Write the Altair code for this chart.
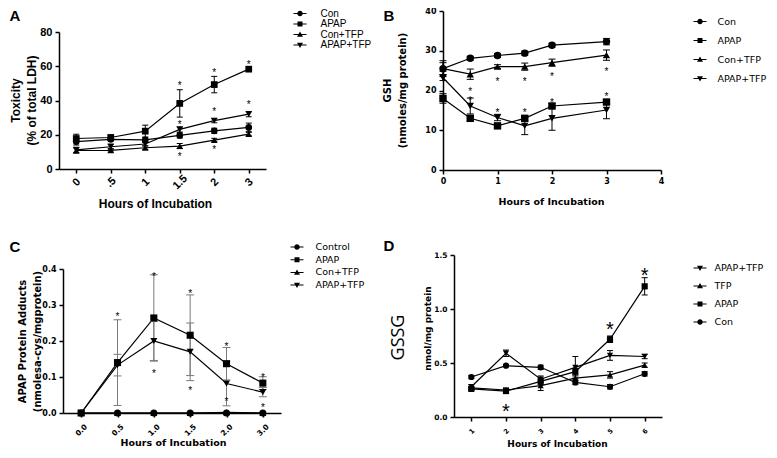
import altair as alt
import pandas as pd

W, H = 761, 442
ARIAL = "Liberation Sans"
DV = "DejaVu Sans"

# ---------------- Panel A : LDH toxicity ----------------
A_hours = ["0", ".5", "1", "1.5", "2", "3"]
A_names = ["Con", "APAP", "Con+TFP", "APAP+TFP"]
A_con = [16.0, 17.3, 17.0, 19.6, 22.3, 24.3]
A_apap = [17.8, 18.4, 22.1, 38.3, 49.3, 58.3]
A_con_tfp = [10.8, 10.9, 12.4, 13.4, 16.9, 20.4]
A_apap_tfp = [11.2, 13.0, 14.6, 23.1, 28.2, 32.0]
A_con_sd = [2.0, 1.0, 1.5, 1.5, 1.5, 2.5]
A_apap_sd = [2.5, 1.5, 3.5, 8.0, 4.8, 1.2]
A_con_tfp_sd = [1.5, 1.0, 1.0, 1.5, 1.0, 1.0]
A_apap_tfp_sd = [1.5, 1.5, 1.0, 1.5, 1.2, 1.5]
A_star_x = ["1.5", "1.5", "1.5", "2", "2", "2", "3", "3"]
A_star_y = [50.5, 27.6, 8.7, 58.0, 35.0, 13.0, 62.5, 39.2]

# ---------------- Panel B : GSH ----------------
B_hours = [0, 0.5, 1, 1.5, 2, 3]
B_names = ["Con", "APAP", "Con+TFP", "APAP+TFP"]
B_con = [25.5, 28.1, 28.8, 29.4, 31.4, 32.3]
B_apap = [18.0, 13.0, 11.1, 13.0, 16.1, 17.1]
B_con_tfp = [25.5, 24.1, 26.0, 26.0, 27.0, 28.9]
B_apap_tfp = [23.2, 16.1, 13.2, 11.1, 13.0, 15.1]
B_con_sd = [1.5, 0.5, 0.5, 0.5, 0.5, 0.8]
B_apap_sd = [1.2, 0.7, 0.5, 0.6, 0.6, 0.5]
B_con_tfp_sd = [2.0, 1.3, 0.5, 0.9, 0.9, 1.3]
B_apap_tfp_sd = [0.7, 2.0, 0.8, 2.2, 3.0, 2.2]
B_star_x = [0.5, 0.5, 1, 1, 1.5, 1.5, 2, 2, 3, 3]
B_star_y = [20.5, 18.2, 22.9, 15.1, 23.0, 15.1, 24.1, 17.6, 25.4, 19.1]

# ---------------- Panel C : APAP protein adducts ----------------
C_hours = ["0.0", "0.5", "1.0", "1.5", "2.0", "3.0"]
C_names = ["Control", "APAP", "Con+TFP", "APAP+TFP"]
C_control = [0.0, 0.0, 0.0, 0.0, 0.0, 0.0]
C_apap = [0.0, 0.140, 0.264, 0.216, 0.137, 0.083]
C_con_tfp = [0.0, 0.0, 0.0, 0.0, 0.002, 0.0]
C_apap_tfp = [0.0, 0.133, 0.200, 0.170, 0.082, 0.058]
C_control_sd = [0, 0, 0, 0, 0, 0]
C_apap_sd = [0, 0.119, 0.120, 0.112, 0.045, 0.018]
C_con_tfp_sd = [0, 0, 0, 0, 0, 0]
C_apap_tfp_sd = [0, 0.030, 0.054, 0.080, 0.062, 0.013]
C_star_x = ["0.5", "1.0", "1.0", "1.5", "1.5", "2.0", "2.0", "3.0", "3.0"]
C_star_y = [0.275, 0.387, 0.116, 0.338, 0.069, 0.193, 0.040, 0.106, 0.023]

# ---------------- Panel D : GSSG ----------------
D_hours = ["1", "2", "3", "4", "5", "6"]
D_names = ["APAP+TFP", "TFP", "APAP", "Con"]
D_apap_tfp = [0.28, 0.59, 0.35, 0.46, 0.57, 0.56]
D_tfp = [0.27, 0.25, 0.29, 0.36, 0.39, 0.48]
D_apap = [0.26, 0.24, 0.33, 0.42, 0.72, 1.21]
D_con = [0.37, 0.475, 0.46, 0.32, 0.28, 0.40]
D_apap_tfp_sd = [0.02, 0.03, 0.03, 0.10, 0.045, 0.02]
D_tfp_sd = [0.01, 0.02, 0.045, 0.02, 0.03, 0.02]
D_apap_sd = [0.01, 0.02, 0.03, 0.03, 0.03, 0.08]
D_con_sd = [0.015, 0.01, 0.02, 0.02, 0.02, 0.02]
D_star_x = ["2", "5", "6"]
D_star_y = [0.10, 0.855, 1.36]

# ---------------- styling helpers ----------------
# legend glyphs: a thin filled bar (the connecting line) plus the marker, all wound clockwise
BAR = "M-1.3,-0.1L1.3,-0.1L1.3,0.1L-1.3,0.1Z"
LEG_PATH = {
    "circle": BAR + "M-0.55,0A0.55,0.55,0,1,1,0.55,0A0.55,0.55,0,1,1,-0.55,0Z",
    "square": BAR + "M-0.5,-0.5L0.5,-0.5L0.5,0.5L-0.5,0.5Z",
    "triangle-up": BAR + "M0,-0.6L0.6,0.45L-0.6,0.45Z",
    "triangle-down": BAR + "M0,0.6L-0.6,-0.45L0.6,-0.45Z",
}
STD_SHAPES = ["circle", "square", "triangle-up", "triangle-down"]
D_SHAPES = ["triangle-down", "triangle-up", "square", "circle"]


def table(xs, names, series, sds):
    rows = []
    for name, vals, sd in zip(names, series, sds):
        for i, (x, v, s) in enumerate(zip(xs, vals, sd)):
            rows.append({"i": i, "x": x, "s": name, "y": v, "lo": v - s, "hi": v + s, "sd": s})
    return pd.DataFrame(rows)


def axis_style(font, lsize, tsize):
    return dict(domainColor="black", domainWidth=1.5, tickColor="black", tickWidth=1.5, tickSize=4,
                labelFont=font, labelFontSize=lsize, labelFontWeight="bold", labelColor="black",
                titleFont=font, titleFontSize=tsize, titleFontWeight="bold", titleColor="black",
                grid=False, titleAlign="center", titleBaseline="middle", labelOverlap=False)


def panel(tab, stars, xtype, xscale, yscale, xaxis, yaxis, names, shapes, msize,
          err_color, cap, star_size, star_dy):
    def xs():
        return alt.X(f"x:{xtype}", scale=xscale, axis=None)

    def ys(f):
        return alt.Y(f"{f}:Q", scale=yscale, axis=None)

    errt = tab[tab["sd"] > 0]
    err = alt.Chart(errt).mark_rule(color=err_color, strokeWidth=1).encode(
        x=xs(), y=ys("lo"), y2="hi:Q")
    cap_lo = alt.Chart(errt).mark_tick(orient="horizontal", color=err_color, size=cap,
                                       thickness=1, opacity=1).encode(x=xs(), y=ys("lo"))
    cap_hi = alt.Chart(errt).mark_tick(orient="horizontal", color=err_color, size=cap,
                                       thickness=1, opacity=1).encode(x=xs(), y=ys("hi"))
    line = alt.Chart(tab).mark_line(color="black", strokeWidth=1.2).encode(
        x=alt.X(f"x:{xtype}", scale=xscale, axis=xaxis),
        y=alt.Y("y:Q", scale=yscale, axis=yaxis),
        detail="s:N", order="i:Q")
    pts = alt.Chart(tab).mark_point(filled=True, color="black", opacity=1, size=msize).encode(
        x=xs(), y=ys("y"),
        shape=alt.Shape("s:N", scale=alt.Scale(domain=names, range=shapes), legend=None))
    st = alt.Chart(stars).mark_text(text="*", font=ARIAL, fontSize=star_size, dy=star_dy,
                                    color="black", baseline="middle").encode(x=xs(), y=ys("y"))
    return [line, err, cap_lo, cap_hi, pts, st]


def legend_layer(names, shapes, lx, ly, font, fsize, rowpad, loff):
    df = pd.DataFrame({"s": names})
    return alt.Chart(df).transform_filter("false").mark_point(
        filled=True, color="black").encode(
        shape=alt.Shape("s:N", scale=alt.Scale(domain=names, range=[LEG_PATH[s] for s in shapes]),
                        legend=alt.Legend(orient="none", legendX=lx, legendY=ly, title=None,
                                          symbolSize=100, labelFont=font, labelFontSize=fsize,
                                          labelColor="black", rowPadding=rowpad, labelOffset=loff,
                                          padding=0, symbolStrokeWidth=0,
                                          symbolFillColor="black", symbolOpacity=1)))


def title_axis(orient, text, tx, ty, font, size, weight, angle, align="left"):
    return alt.Axis(orient=orient, title=text, titleX=tx, titleY=ty, titleFont=font,
                    titleFontSize=size, titleFontWeight=weight, titleAngle=angle,
                    titleAlign=align, titleBaseline="middle", titleColor="black",
                    domain=False, ticks=False, labels=False, grid=False)


def label_layer(xaxis=None, yaxis=None):
    df = pd.DataFrame({"v": [0.0]})
    enc = {}
    if xaxis is not None:
        enc["x"] = alt.X("v:Q", scale=alt.Scale(domain=[0, 1]), axis=xaxis)
    if yaxis is not None:
        enc["y"] = alt.Y("v:Q", scale=alt.Scale(domain=[0, 1]), axis=yaxis)
    return alt.Chart(df).transform_filter("false").mark_point(opacity=0).encode(**enc)


# ---------------- Panel A ----------------
tabA = table(A_hours, A_names, [A_con, A_apap, A_con_tfp, A_apap_tfp],
             [A_con_sd, A_apap_sd, A_con_tfp_sd, A_apap_tfp_sd])
starA = pd.DataFrame({"x": A_star_x, "y": A_star_y})
A_xs = alt.Scale(type="point", domain=A_hours, range=[51, 258], padding=0.5)
A_ys = alt.Scale(domain=[0, 80], range=[161, 24], nice=False, zero=False)
A_xaxis = alt.Axis(orient="bottom", offset=161 - H, title="Hours of Incubation", titleX=147, titleY=34,
                   labelAngle=-45, labelAlign="center", labelBaseline="middle", labelPadding=9,
                   **axis_style(ARIAL, 11, 12))
A_yaxis = alt.Axis(orient="left", offset=-51, values=[0, 20, 40, 60, 80], format="d",
                   title=["Toxicity", "(% of total LDH)"], titleX=-44, titleY=92, titleAngle=270,
                   titleLineHeight=16, labelPadding=3, **axis_style(ARIAL, 11, 12))
pA = panel(tabA, starA, "N", A_xs, A_ys, A_xaxis, A_yaxis, A_names, STD_SHAPES, 45,
           "black", 6, 10, 3)

# ---------------- Panel B ----------------
tabB = table(B_hours, B_names, [B_con, B_apap, B_con_tfp, B_apap_tfp],
             [B_con_sd, B_apap_sd, B_con_tfp_sd, B_apap_tfp_sd])
starB = pd.DataFrame({"x": B_star_x, "y": B_star_y})
B_xs = alt.Scale(domain=[0, 4], range=[435, 653], nice=False, zero=False)
B_ys = alt.Scale(domain=[0, 40], range=[162, 3], nice=False, zero=False)
B_xaxis = alt.Axis(orient="bottom", offset=162 - H, values=[0, 1, 2, 3, 4], format="d",
                   title="Hours of Incubation", titleX=543, titleY=31, labelAngle=0, labelPadding=3,
                   labelFlush=False, **axis_style(DV, 8, 9.5))
B_yaxis = alt.Axis(orient="left", offset=-435, values=[0, 10, 20, 30, 40], format="d",
                   title=["GSH", "(nmoles/mg protein)"], titleX=-56, titleY=82, titleAngle=270,
                   titleLineHeight=15, labelPadding=3, **axis_style(DV, 8, 10))
pB = panel(tabB, starB, "Q", B_xs, B_ys, B_xaxis, B_yaxis, B_names, STD_SHAPES, 55,
           "black", 7, 10, 3)

# ---------------- Panel C ----------------
tabC = table(C_hours, C_names, [C_control, C_apap, C_con_tfp, C_apap_tfp],
             [C_control_sd, C_apap_sd, C_con_tfp_sd, C_apap_tfp_sd])
starC = pd.DataFrame({"x": C_star_x, "y": C_star_y})
C_xs = alt.Scale(type="point", domain=C_hours, range=[55, 273], padding=0.5)
C_ys = alt.Scale(domain=[0, 0.4], range=[405, 261], nice=False, zero=False)
C_xaxis = alt.Axis(orient="bottom", offset=405 - H, title="Hours of Incubation", titleX=165, titleY=29,
                   labelAngle=-45, labelAlign="center", labelBaseline="middle", labelPadding=13,
                   **axis_style(DV, 7.5, 9.5))
C_yaxis = alt.Axis(orient="left", offset=-55, values=[0, 0.1, 0.2, 0.3, 0.4], format=".1f",
                   title=["APAP Protein Adducts", "(nmolesa-cys/mgprotein)"], titleX=-41, titleY=333,
                   titleAngle=270, titleLineHeight=15, labelPadding=3, **axis_style(DV, 8, 10))
pC = panel(tabC, starC, "N", C_xs, C_ys, C_xaxis, C_yaxis, C_names, STD_SHAPES, 50,
           "#7a7a7a", 8, 10, 3)

# ---------------- Panel D ----------------
tabD = table(D_hours, D_names, [D_apap_tfp, D_tfp, D_apap, D_con],
             [D_apap_tfp_sd, D_tfp_sd, D_apap_sd, D_con_sd])
starD = pd.DataFrame({"x": D_star_x, "y": D_star_y})
D_xs = alt.Scale(type="point", domain=D_hours, range=[446, 654], padding=0.5)
D_ys = alt.Scale(domain=[0, 1.5], range=[409, 247], nice=False, zero=False)
D_xaxis = alt.Axis(orient="bottom", offset=409 - H, title="Hours of Incubation", titleX=549, titleY=26,
                   labelAngle=-45, labelAlign="center", labelBaseline="middle", labelPadding=10,
                   **axis_style(DV, 6.5, 9))
D_yaxis = alt.Axis(orient="left", offset=-446, values=[0, 0.5, 1.0, 1.5], format=".1f",
                   title="nmol/mg protein", titleX=-27, titleY=320, titleAngle=270, labelPadding=3,
                   **axis_style(DV, 7.5, 9))
pD = panel(tabD, starD, "N", D_xs, D_ys, D_xaxis, D_yaxis, D_names, D_SHAPES, 38,
           "black", 6, 20, 5.5)

# ---------------- legends ----------------
legA = legend_layer(A_names, STD_SHAPES, 287, 0.5, ARIAL, 10, 0.5, 15.5)
legB = legend_layer(B_names, STD_SHAPES, 687, 8.5, DV, 9.5, 9, 12.5)
legC = legend_layer(C_names, STD_SHAPES, 284, 234, DV, 9.5, 2.7, 13.5)
legD = legend_layer(D_names, D_SHAPES, 687, 255, DV, 9.5, 8, 9.5)

# ---------------- panel letters and GSSG label ----------------
lab1 = label_layer(xaxis=title_axis("top", "A", 1, 7, ARIAL, 15, "bold", 0),
                   yaxis=title_axis("left", "B", 375, 7, ARIAL, 15, "bold", 0))
lab2 = label_layer(xaxis=title_axis("top", "C", 1, 238, ARIAL, 15, "bold", 0),
                   yaxis=title_axis("left", "D", 375, 237, ARIAL, 15, "bold", 0))
lab3 = label_layer(yaxis=title_axis("left", "GSSG", 390, 329, "Open Sans", 18, "normal", 270,
                                    align="center"))

layers = pA + pB + pC + pD + [legA, legB, legC, legD, lab1, lab2, lab3]
chart = alt.layer(*layers).resolve_scale(
    x="independent", y="independent", shape="independent"
).properties(
    width=W, height=H, autosize=alt.AutoSizeParams(type="none"), padding=0, background="white"
).configure_view(stroke=None)

chart.save("out.html", embed_options={"renderer": "svg", "actions": False})
